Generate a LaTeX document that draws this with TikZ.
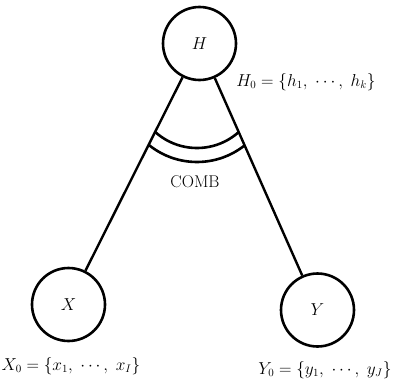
\documentclass[tikz,border=0pt]{standalone}
\begin{document}
\begin{tikzpicture}[x=1pt,y=-1pt,
  every node/.style={font=\fontsize{16}{19}\selectfont},
  vertex/.style={circle, draw, line width=2.6pt, minimum size=73pt, inner sep=0pt, fill=white, font=\fontsize{17}{20}\selectfont},
  edge/.style={line width=2.4pt},
  arcline/.style={line width=2.6pt},
  setlabel/.style={inner sep=0pt}]
\useasboundingbox (0,0) rectangle (394,383);
\node[vertex] (H) at (199.5,43.5) {$H$};
\node[vertex] (X) at (68.5,304.5) {$X$};
\node[vertex] (Y) at (317.5,310) {$Y$};
\draw[edge] (H) -- (X);
\draw[edge] (H) -- (Y);
\begin{scope}
  \clip (H.center) -- (X.center) -- (Y.center) -- cycle;
  \draw[arcline] (197,85.5) circle (62.5pt);
  \draw[arcline] (197,85.5) circle (76.5pt);
\end{scope}
\node[setlabel] (H0) at (306,82) {$H_0 = \{h_1,\;\cdots,\;h_k\}$};
\node[setlabel] (X0) at (71,366) {$X_0 = \{x_1,\;\cdots,\;x_I\}$};
\node[setlabel] (Y0) at (325,370) {$Y_0 = \{y_1,\;\cdots,\;y_J\}$};
\node[setlabel, font=\fontsize{17}{20}\selectfont] (comb) at (195,182) {COMB};
\end{tikzpicture}
\end{document}
